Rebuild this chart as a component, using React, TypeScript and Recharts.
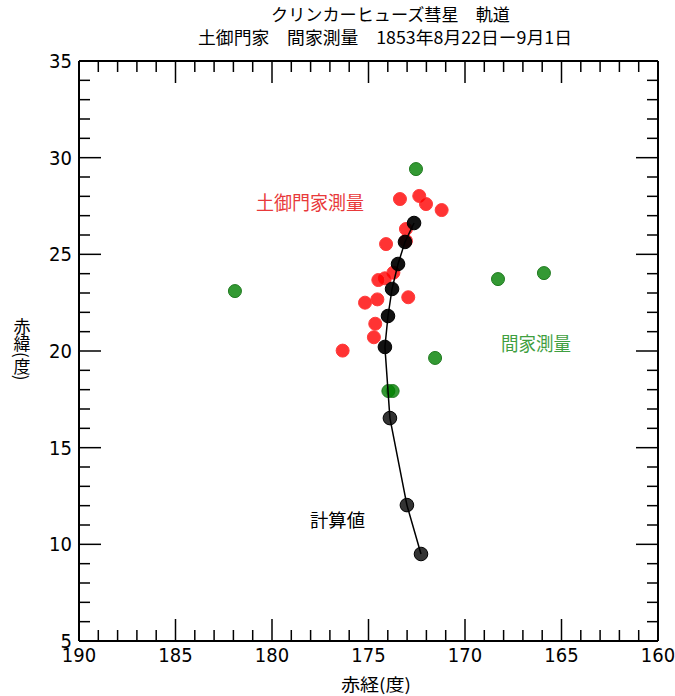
import React from 'react';
import { ScatterChart, Scatter, XAxis, YAxis } from 'recharts';

// 計算値 (computed orbit)
const calcRA = [172.64, 173.11, 173.47, 173.78, 173.99, 174.15, 173.89, 173.01, 172.28];
const calcDec = [26.62, 25.64, 24.5, 23.21, 21.81, 20.21, 16.53, 12.03, 9.5];

// 土御門家測量
const tsuchiRA = [173.37, 172.37, 172.02, 171.21, 173.06, 173.06, 174.09, 173.71, 174.15, 174.49, 172.94, 174.54, 175.18, 174.65, 174.72, 176.34];
const tsuchiDec = [27.86, 28.02, 27.6, 27.29, 26.31, 25.7, 25.53, 24.05, 23.76, 23.67, 22.78, 22.67, 22.5, 21.41, 20.71, 20.02];

// 間家測量
const hazamaRA = [172.54, 181.92, 168.29, 165.91, 171.55, 173.97, 173.75];
const hazamaDec = [29.41, 23.1, 23.72, 24.03, 19.64, 17.93, 17.93];

const raTicks = Array.from({ length: 31 }, (_, i) => 160 + i);
const decTicks = Array.from({ length: 31 }, (_, i) => 5 + i);

const toPoints = (ra: number[], dec: number[]) => ra.map((r, i) => ({ ra: r, dec: dec[i], idx: i }));

const calcData = toPoints(calcRA, calcDec);
const tsuchiData = toPoints(tsuchiRA, tsuchiDec);
const hazamaData = toPoints(hazamaRA, hazamaDec);

const TICK_FONT = '"DejaVu Sans Condensed", "DejaVu Sans", sans-serif';
const CJK_FONT = '"Noto Sans CJK JP", sans-serif';
const MAJOR = 22;
const MINOR = 11;

const BottomTick = (props: any) => {
  const { x, y, payload } = props;
  const v = payload.value;
  const len = v % 5 === 0 ? MAJOR : MINOR;
  return (
    <g>
      <line x1={x} x2={x} y1={y} y2={y - len} stroke="#000" strokeWidth={1.5} />
      {v % 5 === 0 && (
        <text x={x} y={y + 21} textAnchor="middle" fontSize={20} fontFamily={TICK_FONT} fill="#000">
          {v}
        </text>
      )}
    </g>
  );
};

const TopTick = (props: any) => {
  const { x, y, payload } = props;
  const len = payload.value % 5 === 0 ? MAJOR : MINOR;
  return <line x1={x} x2={x} y1={y} y2={y + len} stroke="#000" strokeWidth={1.5} />;
};

const LeftTick = (props: any) => {
  const { x, y, payload } = props;
  const v = payload.value;
  const len = v % 5 === 0 ? MAJOR : MINOR;
  return (
    <g>
      <line x1={x} x2={x + len} y1={y} y2={y} stroke="#000" strokeWidth={1.5} />
      {v % 5 === 0 && (
        <text x={x - 7} y={y + 7} textAnchor="end" fontSize={20} fontFamily={TICK_FONT} fill="#000">
          {v}
        </text>
      )}
    </g>
  );
};

const RightTick = (props: any) => {
  const { x, y, payload } = props;
  const len = payload.value % 5 === 0 ? MAJOR : MINOR;
  return <line x1={x} x2={x - len} y1={y} y2={y} stroke="#000" strokeWidth={1.5} />;
};

const dot = (fill: string, stroke: string, opacity: number) => (p: any) => (
  <circle cx={p.cx} cy={p.cy} r={6.5} fill={fill} fillOpacity={opacity} stroke={stroke} strokeWidth={1} />
);

const calcDot = (p: any) => (
  <circle
    cx={p.cx}
    cy={p.cy}
    r={6.8}
    fill="#000"
    fillOpacity={p.payload.idx < 6 ? 0.93 : 0.8}
    stroke="#000"
    strokeWidth={1}
  />
);

const axisLine = { stroke: '#000', strokeWidth: 2 };

export default function App() {
  return (
    <div style={{ position: 'absolute', left: 0, top: 0, width: 675, height: 696, background: '#fff' }}>
      <ScatterChart width={675} height={696} margin={{ top: 51, right: 7, bottom: 25, left: 49 }}>
        <XAxis
          xAxisId="b"
          type="number"
          dataKey="ra"
          domain={[160, 190]}
          reversed
          allowDataOverflow
          ticks={raTicks}
          interval={0}
          height={30}
          tickSize={0}
          tickMargin={0}
          tickLine={false}
          axisLine={axisLine}
          tick={<BottomTick />}
        />
        <XAxis
          xAxisId="t"
          orientation="top"
          type="number"
          dataKey="ra"
          domain={[160, 190]}
          reversed
          allowDataOverflow
          ticks={raTicks}
          interval={0}
          height={10}
          tickSize={0}
          tickMargin={0}
          tickLine={false}
          axisLine={axisLine}
          tick={<TopTick />}
        />
        <YAxis
          yAxisId="l"
          type="number"
          dataKey="dec"
          domain={[5, 35]}
          allowDataOverflow
          ticks={decTicks}
          interval={0}
          width={30}
          tickSize={0}
          tickMargin={0}
          tickLine={false}
          axisLine={axisLine}
          tick={<LeftTick />}
        />
        <YAxis
          yAxisId="r"
          orientation="right"
          type="number"
          dataKey="dec"
          domain={[5, 35]}
          allowDataOverflow
          ticks={decTicks}
          interval={0}
          width={10}
          tickSize={0}
          tickMargin={0}
          tickLine={false}
          axisLine={axisLine}
          tick={<RightTick />}
        />
        <Scatter
          name="土御門家測量"
          xAxisId="b"
          yAxisId="l"
          data={tsuchiData}
          shape={dot('#ff0000', '#ff3a3a', 0.8)}
          isAnimationActive={false}
        />
        <Scatter
          name="間家測量"
          xAxisId="b"
          yAxisId="l"
          data={hazamaData}
          shape={dot('#008000', '#1f7a1f', 0.8)}
          isAnimationActive={false}
        />
        <Scatter
          name="計算値"
          xAxisId="b"
          yAxisId="l"
          data={calcData}
          line={{ stroke: '#000', strokeWidth: 1.5 }}
          lineJointType="linear"
          shape={calcDot}
          isAnimationActive={false}
        />
      </ScatterChart>
      <svg
        width={675}
        height={696}
        style={{ position: 'absolute', left: 0, top: 0, pointerEvents: 'none' }}
        fontFamily={CJK_FONT}
      >
        <text x={271} y={21} fontSize={17} textLength={239} lengthAdjust="spacingAndGlyphs" fill="#000">
          クリンカーヒューズ彗星　軌道
        </text>
        <text x={198} y={44} fontSize={17} textLength={374} lengthAdjust="spacingAndGlyphs" fill="#000">
          土御門家　間家測量　1853年8月22日ー9月1日
        </text>
        <text x={256} y={210} fontSize={19} textLength={108} lengthAdjust="spacingAndGlyphs" fill="#e8393a">
          土御門家測量
        </text>
        <text x={501} y={351} fontSize={19} textLength={70} lengthAdjust="spacingAndGlyphs" fill="#3f9f3f">
          間家測量
        </text>
        <text x={310} y={527} fontSize={18} textLength={55} lengthAdjust="spacingAndGlyphs" fill="#000">
          計算値
        </text>
        <text x={341} y={691} fontSize={17} textLength={70} lengthAdjust="spacingAndGlyphs" fill="#000">
          赤経(度)
        </text>
        <text x={22} y={318} fontSize={17} style={{ writingMode: 'vertical-rl' }} fill="#000">
          赤緯(度)
        </text>
      </svg>
    </div>
  );
}
